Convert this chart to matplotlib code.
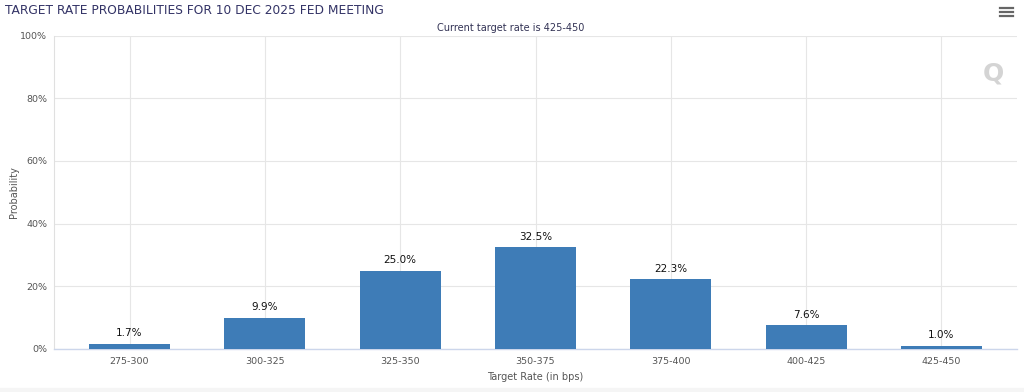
import matplotlib
matplotlib.use("Agg")
import matplotlib.pyplot as plt
from matplotlib.lines import Line2D
from matplotlib.patches import Rectangle

categories = ["275-300", "300-325", "325-350", "350-375", "375-400", "400-425", "425-450"]
probabilities = [1.7, 9.9, 25.0, 32.5, 22.3, 7.6, 1.0]
y_ticks = [0, 20, 40, 60, 80, 100]
y_tick_labels = ["0%", "20%", "40%", "60%", "80%", "100%"]

W, H = 1024, 392
fig = plt.figure(figsize=(W / 100, H / 100), dpi=100)
fig.patch.set_facecolor("white")

left, right, top, bottom = 54, 1017, 35.5, 349
ax = fig.add_axes([left / W, 1 - bottom / H, (right - left) / W, (bottom - top) / H])
ax.set_facecolor("white")

x = list(range(len(categories)))
ax.bar(x, probabilities, width=0.6, color="#3e7cb7", zorder=3)
for xi, v in zip(x, probabilities):
    ax.annotate(f"{v:.1f}%", (xi, v), xytext=(0, 4), textcoords="offset points",
                ha="center", va="bottom", fontsize=7.5, color="#111111", zorder=4)

ax.set_xlim(-0.558, 6.558)
ax.set_ylim(0, 100)
ax.set_yticks(y_ticks)
ax.set_yticklabels(y_tick_labels)
ax.set_xticks(x)
ax.set_xticklabels(categories)
ax.tick_params(axis="both", length=0, labelsize=6.8, labelcolor="#555555")
ax.tick_params(axis="y", pad=5)
ax.tick_params(axis="x", pad=6)
ax.grid(True, color="#e6e6e6", linewidth=0.8, zorder=0)
for s in ["top", "right"]:
    ax.spines[s].set_visible(False)
ax.spines["left"].set_color("#e0e0e0")
ax.spines["left"].set_linewidth(0.8)
ax.spines["bottom"].set_color("#ccd6eb")
ax.spines["bottom"].set_linewidth(1.0)

ax.set_xlabel("Target Rate (in bps)", fontsize=7, color="#555555", labelpad=4)
ax.set_ylabel("Probability", fontsize=7, color="#555555")
ax.yaxis.set_label_coords((19 - left) / (right - left), 0.5)

fig.text(5 / W, 1 - 10 / H, "TARGET RATE PROBABILITIES FOR 10 DEC 2025 FED MEETING",
         fontsize=8.8, color="#333366", ha="left", va="center")
fig.text(511 / W, 1 - 28 / H, "Current target rate is 425-450",
         fontsize=7, color="#333355", ha="center", va="center")

# watermark Q
fig.text(993 / W, 1 - 73 / H, "Q", fontsize=18, fontweight="bold", color="#d4d4d4",
         ha="center", va="center")

# hamburger menu
for yy in [8, 12, 16]:
    fig.add_artist(Line2D([1000 / W, 1013 / W], [1 - yy / H, 1 - yy / H],
                          color="#666666", linewidth=1.6))

# bottom strip
fig.add_artist(Rectangle((0, 0), 1, 4 / H, transform=fig.transFigure,
                         color="#f5f5f5", zorder=0))

fig.savefig("out.png", dpi=100)
